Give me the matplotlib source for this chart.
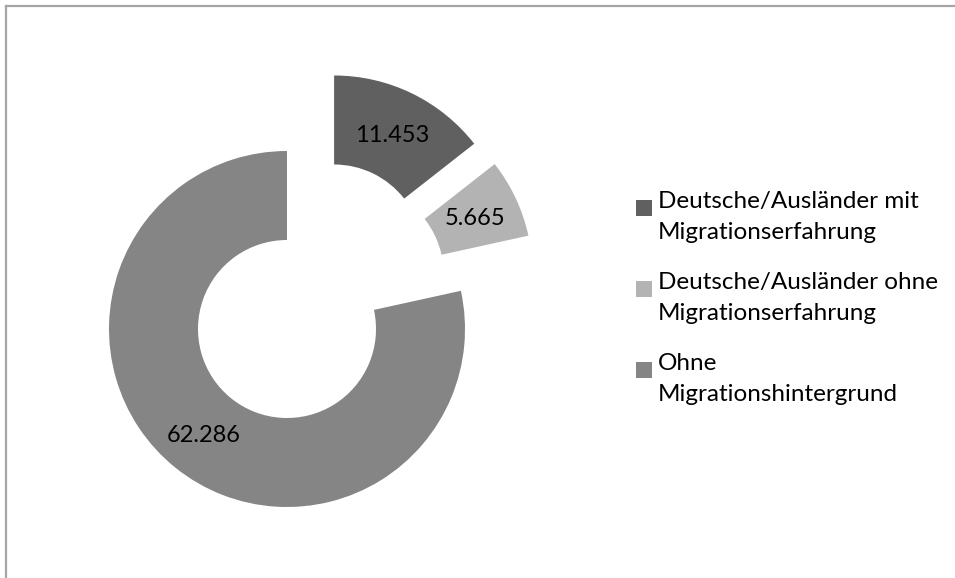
import numpy as np
import matplotlib.pyplot as plt
from matplotlib.patches import Rectangle
from matplotlib.lines import Line2D

plt.rcParams['font.family'] = ['Lato', 'DejaVu Sans']

# Anzahl Personen je Gruppe
labels = ["Deutsche/Ausländer mit\nMigrationserfahrung",
          "Deutsche/Ausländer ohne\nMigrationserfahrung",
          "Ohne\nMigrationshintergrund"]
values = [11453, 5665, 62286]
colors = ['#606060', '#b3b3b3', '#858585']

# explosion (fraction of radius) and a small turn of the explode direction (deg, clockwise)
explode = [0.5, 0.49, 0.0]
explode_turn = [6, -14, 0]

W, H = 955, 578
fig = plt.figure(figsize=(W / 100, H / 100), dpi=100)
ax = fig.add_axes([0, 0, 1, 1])

cx, cy, R = 287, H - 329, 178
wedges, _ = ax.pie(values, colors=colors, startangle=90, counterclock=False,
                   center=(cx, cy), radius=R,
                   wedgeprops=dict(width=R * 0.5, linewidth=0))

for w, v, e, t in zip(wedges, values, explode, explode_turn):
    mid = np.deg2rad((w.theta1 + w.theta2) / 2)
    d = np.deg2rad((w.theta1 + w.theta2) / 2 - t)
    ox, oy = cx + e * R * np.cos(d), cy + e * R * np.sin(d)
    w.set_center((ox, oy))
    lx, ly = ox + 0.75 * R * np.cos(mid), oy + 0.75 * R * np.sin(mid)
    ax.text(lx, ly - 2, f"{v:,}".replace(",", "."), ha='center', va='center',
            fontsize=17, color='black')

ax.set_xlim(0, W)
ax.set_ylim(0, H)
ax.set_aspect('equal')
ax.axis('off')

# legend drawn by hand so the square sits on the first line of each entry
lx0, ly0, step, lsp = 636, 207, 81, 32
for i, (lab, col) in enumerate(zip(labels, colors)):
    base = ly0 + i * step
    fig.add_artist(Rectangle((lx0 / W, 1 - (base + 9) / H), 16 / W, 16 / H,
                             transform=fig.transFigure, color=col, lw=0))
    nlines = lab.count("\n")
    fig.text((lx0 + 22) / W, 1 - (base + nlines * lsp) / H, lab, fontsize=17.5,
             va='baseline', ha='left', linespacing=1.58, color='#000000')

# frame (cut off on the right and bottom)
fig.add_artist(Line2D([6 / W, 954 / W], [1 - 6 / H, 1 - 6 / H], color='#a6a6a6', lw=1.6,
                      transform=fig.transFigure))
fig.add_artist(Line2D([6 / W, 6 / W], [0, 1 - 6 / H], color='#a6a6a6', lw=1.6,
                      transform=fig.transFigure))

fig.savefig('out.png', dpi=100)
